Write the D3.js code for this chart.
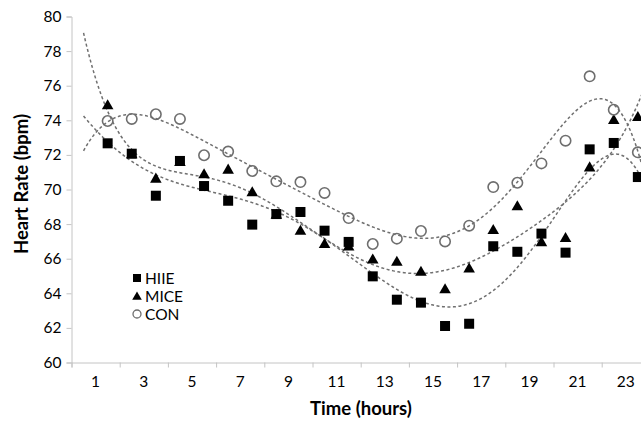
<!DOCTYPE html>
<html><head><meta charset="utf-8">
<script src="https://cdn.jsdelivr.net/npm/d3@7"></script>
<style>body{margin:0;background:#fff}svg{display:block}text{font-family:Lato,"Open Sans",sans-serif}</style>
</head><body><svg id="c" width="641" height="421"></svg>
<script>
const hours = [1.5,2.5,3.5,4.5,5.5,6.5,7.5,8.5,9.5,10.5,11.5,12.5,13.5,14.5,15.5,16.5,17.5,18.5,19.5,20.5,21.5,22.5,23.5];
const hiie = [72.67,72.07,69.64,71.65,70.2,69.35,67.97,68.58,68.7,67.62,66.97,64.98,63.63,63.46,62.11,62.24,66.72,66.4,67.45,66.35,72.32,72.69,70.72];
const mice = [74.83,72.0,70.59,71.55,70.84,71.11,69.8,68.5,67.58,66.81,66.66,65.92,65.79,65.21,64.19,65.39,67.62,68.99,66.92,67.16,71.24,73.98,74.15];
const con  = [73.96,74.08,74.35,74.08,71.98,72.19,71.07,70.47,70.43,69.8,68.35,66.85,67.16,67.6,67.0,67.91,70.14,70.39,71.51,72.82,76.54,74.61,72.15];
const yTicks = [60,62,64,66,68,70,72,74,76,78,80];
const xTickMarks = [0,2,4,6,8,10,12,14,16,18,20,22,24];
const xLabels = [1,3,5,7,9,11,13,15,17,19,21,23];
const seriesNames = ["HIIE","MICE","CON"];
const trendOrder = 6;
const trendRange = [0.5, 24.8];

const svg = d3.select("#c");
const x = d3.scaleLinear().domain([0,24]).range([71.5, 71.5+24.1*24]);
const y = d3.scaleLinear().domain([60,80]).range([362.5,16.5]);
const axisColor = "#c4c4c4";

// y axis
const ya = svg.append("g").attr("transform",`translate(${x(0)},0)`)
  .call(d3.axisLeft(y).tickValues(yTicks).tickSize(5).tickPadding(5).tickFormat(d3.format("d")));
ya.select(".domain").attr("stroke",axisColor);
ya.selectAll(".tick line").attr("stroke",axisColor);
ya.selectAll("text").attr("font-size",15.5).attr("fill","#000");

// x axis
const xa = svg.append("g").attr("transform",`translate(0,${y(60)})`)
  .call(d3.axisBottom(x).tickValues(xTickMarks).tickSize(5).tickFormat(""));
xa.select(".domain").attr("stroke",axisColor);
xa.selectAll(".tick line").attr("stroke",axisColor);
svg.append("g").selectAll("text").data(xLabels).join("text")
  .attr("x",d=>x(d)).attr("y",y(60)+24.5).attr("text-anchor","middle")
  .attr("font-size",15.5).attr("fill","#000").text(d=>d);

// titles
svg.append("text").attr("x",361).attr("y",415).attr("text-anchor","middle")
  .attr("font-size",18.5).attr("font-weight","bold").text("Time (hours)");
svg.append("text").attr("transform","translate(28,184) rotate(-90)").attr("text-anchor","middle")
  .attr("font-size",18.5).attr("font-weight","bold").text("Heart Rate (bpm)");

// polynomial fit
function polyfit(xs, ys, order){
  const c = 12.5, s = 11;
  const n = order+1;
  const A = Array.from({length:n},()=>new Array(n+1).fill(0));
  xs.forEach((xv,i)=>{
    const t=(xv-c)/s; const p=[]; for(let k=0;k<n;k++)p.push(Math.pow(t,k));
    for(let r=0;r<n;r++){for(let q=0;q<n;q++)A[r][q]+=p[r]*p[q]; A[r][n]+=p[r]*ys[i];}
  });
  for(let col=0;col<n;col++){
    let piv=col; for(let r=col+1;r<n;r++) if(Math.abs(A[r][col])>Math.abs(A[piv][col])) piv=r;
    [A[col],A[piv]]=[A[piv],A[col]];
    for(let r=0;r<n;r++){ if(r===col) continue; const f=A[r][col]/A[col][col];
      for(let q=col;q<=n;q++) A[r][q]-=f*A[col][q]; }
  }
  const coef=A.map((row,i)=>row[n]/row[i]);
  return xv=>{const t=(xv-c)/s; let v=0; for(let k=n-1;k>=0;k--) v=v*t+coef[k]; return v;};
}
svg.append("clipPath").attr("id","pc").append("rect")
  .attr("x",x(0)).attr("y",0).attr("width",700).attr("height",y(60));
const line = d3.line().x(d=>x(d[0])).y(d=>y(d[1])).curve(d3.curveLinear);
[hiie,mice,con].forEach(vals=>{
  const f = polyfit(hours, vals, trendOrder);
  const pts = d3.range(trendRange[0], trendRange[1]+0.001, 0.05).map(h=>[h,f(h)]);
  svg.append("path").attr("clip-path","url(#pc)").attr("d",line(pts)).attr("fill","none")
    .attr("stroke","#707070").attr("stroke-width",1.5).attr("stroke-dasharray","3,2.5");
});

// markers
const tri = d3.symbol().type(d3.symbolTriangle).size(58);
svg.append("g").selectAll("path").data(hours.map((h,i)=>[h,mice[i]])).join("path")
  .attr("d",tri).attr("transform",d=>`translate(${x(d[0])},${y(d[1])})`).attr("fill","#000");
svg.append("g").selectAll("rect").data(hours.map((h,i)=>[h,hiie[i]])).join("rect")
  .attr("x",d=>x(d[0])-5).attr("y",d=>y(d[1])-5).attr("width",10).attr("height",10).attr("fill","#000");
svg.append("g").selectAll("circle").data(hours.map((h,i)=>[h,con[i]])).join("circle")
  .attr("cx",d=>x(d[0])).attr("cy",d=>y(d[1])).attr("r",5.2)
  .attr("fill","none").attr("stroke","#6e6e6e").attr("stroke-width",1.6);

// legend
const lg = svg.append("g");
const ly = [278,296,314];
lg.append("rect").attr("x",133).attr("y",ly[0]-4).attr("width",8).attr("height",8).attr("fill","#000");
lg.append("path").attr("d",d3.symbol().type(d3.symbolTriangle).size(40)).attr("transform",`translate(137,${ly[1]+1})`).attr("fill","#000");
lg.append("circle").attr("cx",137).attr("cy",ly[2]).attr("r",4).attr("fill","none").attr("stroke","#6e6e6e").attr("stroke-width",1.3);
lg.selectAll("text").data(seriesNames).join("text").attr("x",145).attr("y",(d,i)=>ly[i]+5.5)
  .attr("font-size",15.5).attr("fill","#000").text(d=>d);
</script></body></html>
